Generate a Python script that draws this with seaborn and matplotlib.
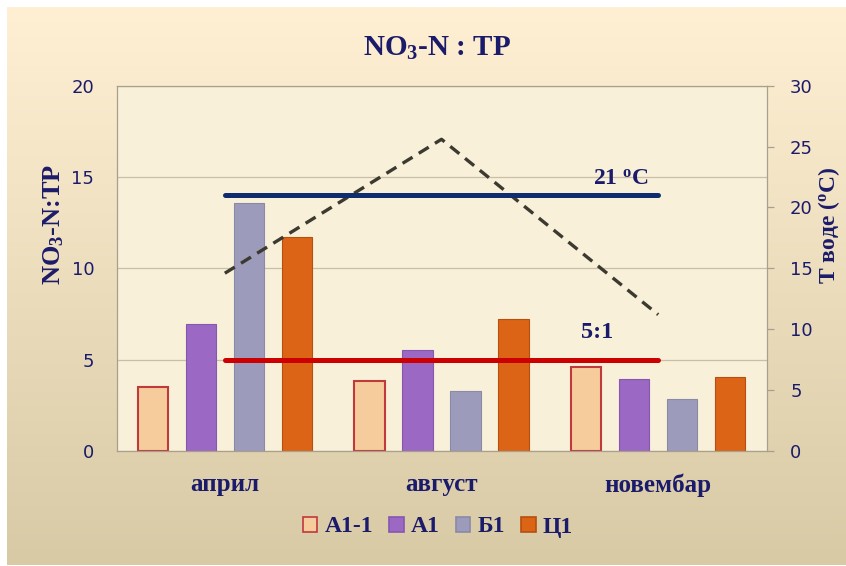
import numpy as np
import pandas as pd
import seaborn as sns
import matplotlib.pyplot as plt
from matplotlib.patches import Patch

# podaci
meseci = ['април', 'август', 'новембар']
serije = ['А1-1', 'А1', 'Б1', 'Ц1']
a1_1 = [3.52, 3.85, 4.60]
a1 = [6.93, 5.53, 3.94]
b1 = [13.57, 3.30, 2.85]
c1 = [11.70, 7.22, 4.07]
temperatura = [14.6, 25.6, 11.2]
t_granica = 21
odnos_granica = 5

boje = ['#F7CC9C', '#9B68C4', '#9C9BBB', '#DC6417']
ivice = ['#C0393B', '#8756B0', '#8A89A8', '#B5500E']
plava = '#1B1B6B'

df = pd.DataFrame({
    'mesec': np.repeat(meseci, len(serije)),
    'serija': serije * len(meseci),
    'vrednost': [v for trio in zip(a1_1, a1, b1, c1) for v in trio],
})

sns.set_style('white')
plt.rcParams['font.family'] = ['DejaVu Sans']
plt.rcParams['mathtext.default'] = 'regular'

fig = plt.figure(figsize=(8.46, 5.66), dpi=100)
fig.patch.set_facecolor('white')

# pozadina sa prelivom
bg = fig.add_axes([7 / 846, 1 / 566, 839 / 846, 558 / 566], zorder=-10)
grad = np.linspace(0, 1, 256).reshape(-1, 1)
top_c = np.array([255, 240, 212]) / 255
bot_c = np.array([216, 202, 165]) / 255
img = top_c * (1 - grad[..., None]) + bot_c * grad[..., None]
bg.imshow(img, aspect='auto', extent=[0, 1, 0, 1])
bg.set_axis_off()

ax = fig.add_axes([116.5 / 846, 1 - 451 / 566, 650 / 846, 365.3 / 566])
ax.set_facecolor('#F8F0D9')

sns.barplot(data=df, x='mesec', y='vrednost', hue='serija', order=meseci,
            hue_order=serije, palette=boje, saturation=1, width=0.885,
            gap=0.37, legend=False, ax=ax, zorder=2)
for i, cont in enumerate(ax.containers):
    for bar in cont:
        bar.set_edgecolor(ivice[i])
        bar.set_linewidth(1.5 if i == 0 else 0.8)

ax.set_xlim(-0.5, 2.5)
ax.set_ylim(0, 20)
ax.set_yticks([0, 5, 10, 15, 20])
ax.grid(axis='y', color='#C9BFA6', lw=0.9, zorder=0)
ax.set_axisbelow(True)
for s in ax.spines.values():
    s.set_color('#A8A08C')
    s.set_linewidth(0.9)

ax.plot([0, 2], [odnos_granica, odnos_granica], color='#CC0000', lw=3.6,
        solid_capstyle='round', zorder=5)
ax.text(1.72, 6.5, '5:1', ha='center', va='center', fontsize=17.5,
        fontweight='bold', family='Liberation Serif', color=plava, zorder=6)

ax.tick_params(axis='y', length=0, pad=16, labelsize=13, labelcolor=plava)
ax.tick_params(axis='x', length=0, pad=16)
ax.set_xticks(range(len(meseci)))
ax.set_xticklabels(meseci, fontsize=18, fontweight='bold',
                   family='Liberation Serif', color=plava)
ax.set_xlabel('')
ax.set_ylabel('NO$_3$-N:TP', fontsize=19, fontweight='bold',
              family='Liberation Serif', color=plava)
ax.yaxis.set_label_coords((66 - 116.5) / 650, (451 - 224) / 365.3)

ax2 = ax.twinx()
ax2.set_ylim(0, 30)
ax2.set_yticks(range(0, 31, 5))
sns.lineplot(x=list(range(len(meseci))), y=temperatura, ax=ax2,
             color='#3C3A30', lw=2.4, linestyle=(0, (3.5, 2.2)))
ax2.plot([0, 2], [t_granica, t_granica], color='#0F2D6E', lw=3.6,
         solid_capstyle='round')
ax2.text(1.83, 22.3, '21 $^o$C', ha='center', va='center', fontsize=17,
         fontweight='bold', family='Liberation Serif', color=plava)
ax2.tick_params(axis='y', length=5, width=0.9, color='#A8A08C', pad=12,
                labelsize=13, labelcolor=plava)
for s in ax2.spines.values():
    s.set_visible(False)
ax2.set_ylabel('T воде ($^o$C)', fontsize=17, fontweight='bold',
               family='Liberation Serif', color=plava, rotation=90)
ax2.yaxis.set_label_coords((816 - 116.5) / 650, (451 - 225) / 365.3)

fig.text(437 / 846, 1 - 48 / 566, 'NO$_3$-N : TP', ha='center', va='center',
         fontsize=21, fontweight='bold', family='Liberation Serif', color=plava)

handles = [Patch(facecolor=boje[i], edgecolor=ivice[i], lw=1.2) for i in range(4)]
fig.legend(handles, serije, loc='center', bbox_to_anchor=(438 / 846, 1 - 527 / 566),
           ncol=4, frameon=False, handlelength=0.6, handleheight=0.6,
           handletextpad=0.3, columnspacing=0.7,
           prop={'family': 'Liberation Serif', 'weight': 'bold', 'size': 17})
for t in fig.legends[0].get_texts():
    t.set_color(plava)

fig.savefig('out.png', dpi=100)
